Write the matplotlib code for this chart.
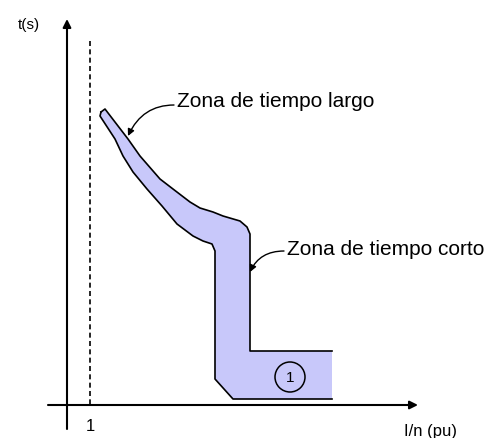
import matplotlib
matplotlib.use("Agg")
import matplotlib.pyplot as plt
from matplotlib.patches import Circle

plt.rcParams['font.family'] = ['Liberation Sans', 'DejaVu Sans']

# trip band of the breaker curve, drawn in a pixel-like frame (y grows downwards)
upper_x = [101, 105, 128, 140, 160, 173, 190, 200, 213, 223, 240, 247, 250, 250, 332]
upper_y = [113, 110, 140, 157, 180, 190, 203, 209, 213, 217, 222, 228, 235, 352, 352]
lower_x = [101, 100, 115, 123, 133, 147, 162, 177, 193, 203, 212, 215, 215, 233, 332]
lower_y = [113, 117, 140, 157, 173, 190, 207, 225, 237, 242, 245, 252, 380, 400, 400]

# axes and reference line at I/In = 1
origin = (67, 406)
y_axis_top = 20
y_axis_bottom = 430
x_axis_left = 48
x_axis_right = 418
pickup_x = 90

zone_labels = ["Zona de tiempo largo", "Zona de tiempo corto"]
zone_text_pos = [(177, 102), (287, 250)]
zone_arrow_tip = [(128, 137), (250, 273)]
zone_arrow_start = [(174, 106), (284, 252)]

fig = plt.figure(figsize=(4.94, 4.39), dpi=100)
ax = fig.add_axes([0, 0, 1, 1])
ax.set_xlim(0, 494)
ax.set_ylim(439, 0)
ax.axis('off')

# band
poly_x = upper_x + lower_x[::-1]
poly_y = upper_y + lower_y[::-1]
ax.fill(poly_x, poly_y, color='#c8c8fa', lw=0)
ax.plot(upper_x, upper_y, color='black', lw=1.2)
ax.plot(lower_x, lower_y, color='black', lw=1.2)

# axes with arrow heads
ax.annotate('', xy=(origin[0], y_axis_top), xytext=(origin[0], y_axis_bottom),
            arrowprops=dict(arrowstyle='-|>', lw=1.5, color='black', mutation_scale=12,
                            shrinkA=0, shrinkB=0))
ax.annotate('', xy=(x_axis_right, origin[1]), xytext=(x_axis_left, origin[1]),
            arrowprops=dict(arrowstyle='-|>', lw=1.5, color='black', mutation_scale=12,
                            shrinkA=0, shrinkB=0))
ax.plot([pickup_x, pickup_x], [42, origin[1]], color='black', lw=1.2, ls=(0, (3, 2)))

ax.text(29, 25, 't(s)', fontsize=11, ha='center', va='center')
ax.text(430, 432, 'I/n (pu)', fontsize=12, ha='center', va='center')
ax.text(pickup_x, 427, '1', fontsize=12, ha='center', va='center')

# zone labels with leader arrows: leave the text horizontally, then turn down
for label, tpos, tip, start in zip(zone_labels, zone_text_pos, zone_arrow_tip, zone_arrow_start):
    ax.text(tpos[0], tpos[1], label, fontsize=15, ha='left', va='center')
    ax.annotate('', xy=tip, xytext=start,
                arrowprops=dict(arrowstyle='-|>', lw=1.0, color='black', mutation_scale=10,
                                shrinkA=0, shrinkB=0,
                                connectionstyle='angle3,angleA=0,angleB=65'))

# circled number for the band
ax.add_patch(Circle((290, 378), 15, fill=False, lw=1.1, color='black'))
ax.text(290, 378, '1', fontsize=11, ha='center', va='center')

fig.savefig('out.png', dpi=100)
